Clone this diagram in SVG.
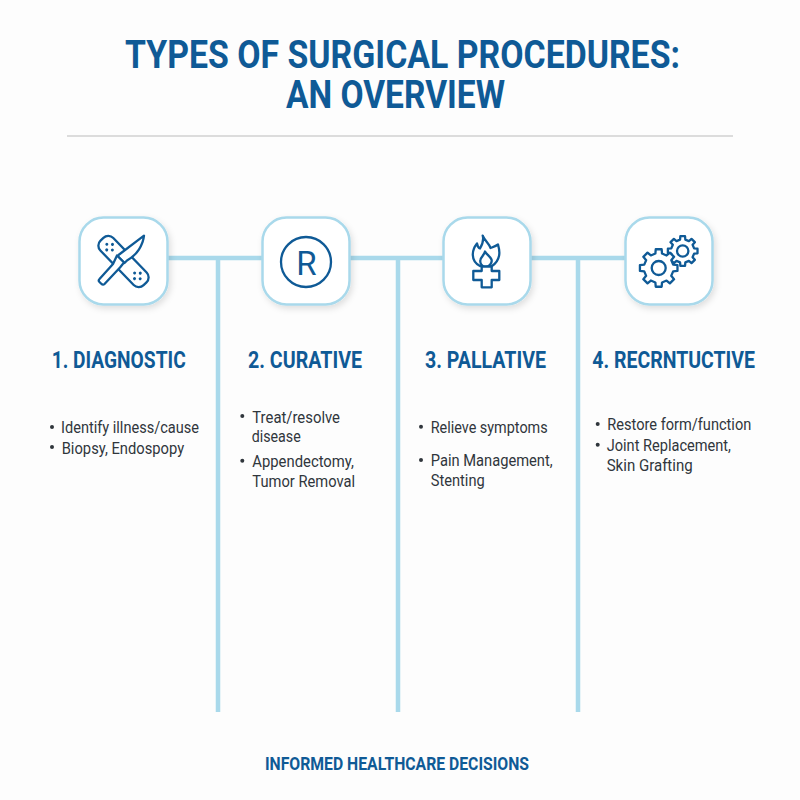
<svg xmlns="http://www.w3.org/2000/svg" width="800" height="800" viewBox="0 0 800 800">
<style>
text{font-family:"Roboto","Liberation Sans",sans-serif}
.t{font-size:38px;font-weight:700;fill:#0f5a96}
.h{font-size:23px;font-weight:700;fill:#0f5a96}
.b{font-size:17px;font-weight:400;fill:#30363c}
.f{font-size:18.500px;font-weight:700;fill:#0f5a96}
.card{fill:#fff;stroke:#a9d9eb;stroke-width:2.500;filter:url(#sh)}
.ln{stroke:#a9d9eb;stroke-width:4.500;fill:none}
.ic{fill:#fff;stroke:#0f5a96;stroke-width:2.300;stroke-linejoin:round;stroke-linecap:round}
.d{fill:#0f5a96}
.bu{fill:#30363c}
</style>
<defs>
<filter id="sh" x="-20%" y="-20%" width="140%" height="140%"><feDropShadow dx="2" dy="3" stdDeviation="3" flood-color="#000" flood-opacity="0.12"/></filter>
<path id="gear" vector-effect="non-scaling-stroke" d="M.76-.175L.988-.156L.988.156L.76.175L.659.414L.809.588L.588.809L.414.661L.175.76L.156.988L-.156.988L-.175.76L-.414.659L-.588.809L-.809.588L-.661.414L-.76.175L-.988.156L-.988-.156L-.76-.175L-.659-.414L-.809-.588L-.588-.809L-.414-.661L-.175-.76L-.156-.988L.156-.988L.175-.76L.414-.659L.588-.809L.809-.588L.661-.414Z"/>
</defs>
<rect width="800" height="800" fill="#fdfdfd"/>
<g id="title">
<text class="t" x="125" y="67.500" textLength="555" lengthAdjust="spacingAndGlyphs">TYPES OF SURGICAL PROCEDURES:</text>
<text class="t" x="286" y="107.500" textLength="219" lengthAdjust="spacingAndGlyphs">AN OVERVIEW</text>
<rect x="67" y="135" width="666" height="2" fill="#dcdcdc"/>
</g>
<g id="connectors">
<path class="ln" d="M168 258H625M218 258V712M398 258V712M578 258V712"/>
</g>
<g id="node1">
<rect class="card" x="79.500" y="217.500" width="88" height="87" rx="24"/>
<g transform="translate(123.500 261.500) rotate(46)">
<rect class="ic" x="-31" y="-9" width="62" height="18" rx="7"/>
<g class="d"><circle cx="-24" cy="0" r="1.500"/><circle cx="-20" cy="-4" r="1.500"/><circle cx="-20" cy="4" r="1.500"/><circle cx="-16" cy="0" r="1.500"/><circle cx="24" cy="0" r="1.500"/><circle cx="20" cy="-4" r="1.500"/><circle cx="20" cy="4" r="1.500"/><circle cx="16" cy="0" r="1.500"/></g>
</g>
<path class="ic" d="M144 235.700C143 245 137 255 127 260.500L124.500 263L118 256.500L118.500 255Z"/>
<path class="ic" d="M117 255.500L124 262.500L120 267.500L104.500 284Q103 285.500 101 283.500L99.500 282Q98 280.500 99.500 279L113 264Z"/>
</g>
<g id="node2">
<rect class="card" x="262.500" y="217.500" width="87" height="87" rx="24"/>
<circle cx="306" cy="262" r="25" fill="none" stroke="#0f5a96" stroke-width="2.300"/>
<text x="306.500" y="275" text-anchor="middle" font-size="33" font-weight="400" fill="#0f5a96">R</text>
</g>
<g id="node3">
<rect class="card" x="443.500" y="217.500" width="87" height="87" rx="24"/>
<path class="ic" d="M482.700 235.700C485 241 489 243 490.500 248C493 247 496 246 498 244.500C499 248 500 252 499 256C498 261 495 264 492 266H480C476 264 473 260 472.800 255C472.600 250 475 246 477 243.500C477.500 246 478 248 480 248.500C482 245 484 240 482.700 235.700Z"/>
<path class="ic" d="M485 251.500C486 254 490 256 491.500 259.500C492.500 263 489 267 486 267C482 267 479.500 263 480.500 259.500C481 257.500 484 255 485 251.500Z"/>
<path class="ic" d="M481.700 266.500H491.700V271H499.300V280H491.700V287.300H481.700V280H473.300V271H481.700Z"/>
</g>
<g id="node4">
<rect class="card" x="625.500" y="217.500" width="87" height="87" rx="24"/>
<use href="#gear" class="ic" transform="translate(682.700 251) scale(15)"/>
<circle class="ic" cx="682.700" cy="251" r="5.700"/>
<use href="#gear" class="ic" transform="translate(658.700 268) scale(19)"/>
<circle class="ic" cx="658.700" cy="268" r="7"/>
</g>
<g id="col1">
<text class="h" x="51.700" y="368.300" textLength="134" lengthAdjust="spacingAndGlyphs">1. DIAGNOSTIC</text>
<circle class="bu" cx="52" cy="427" r="2"/><circle class="bu" cx="52" cy="447" r="2"/>
<text class="b" x="61" y="433" textLength="138" lengthAdjust="spacingAndGlyphs">Identify illness/cause</text>
<text class="b" x="61.700" y="454" textLength="122.500" lengthAdjust="spacingAndGlyphs">Biopsy, Endospopy</text>
</g>
<g id="col2">
<text class="h" x="248" y="368.300" textLength="114" lengthAdjust="spacingAndGlyphs">2. CURATIVE</text>
<circle class="bu" cx="242.300" cy="416" r="2"/><circle class="bu" cx="242.300" cy="460.700" r="2"/>
<text class="b" x="252.300" y="422.700" textLength="87.700" lengthAdjust="spacingAndGlyphs">Treat/resolve</text>
<text class="b" x="251.700" y="442.300" textLength="49" lengthAdjust="spacingAndGlyphs">disease</text>
<text class="b" x="252.300" y="466.700" textLength="101.700" lengthAdjust="spacingAndGlyphs">Appendectomy,</text>
<text class="b" x="252.300" y="486.700" textLength="102.700" lengthAdjust="spacingAndGlyphs">Tumor Removal</text>
</g>
<g id="col3">
<text class="h" x="425" y="368.300" textLength="121" lengthAdjust="spacingAndGlyphs">3. PALLATIVE</text>
<circle class="bu" cx="421" cy="426.700" r="2"/><circle class="bu" cx="421" cy="460" r="2"/>
<text class="b" x="430.700" y="432.700" textLength="117" lengthAdjust="spacingAndGlyphs">Relieve symptoms</text>
<text class="b" x="430.700" y="466" textLength="122" lengthAdjust="spacingAndGlyphs">Pain Management,</text>
<text class="b" x="430.700" y="486" textLength="54" lengthAdjust="spacingAndGlyphs">Stenting</text>
</g>
<g id="col4">
<text class="h" x="592.300" y="368.300" textLength="162.700" lengthAdjust="spacingAndGlyphs">4. RECRNTUCTIVE</text>
<circle class="bu" cx="597.700" cy="424" r="2"/><circle class="bu" cx="597.700" cy="444.700" r="2"/>
<text class="b" x="607.300" y="430" textLength="144" lengthAdjust="spacingAndGlyphs">Restore form/function</text>
<text class="b" x="606.700" y="450.700" textLength="124.300" lengthAdjust="spacingAndGlyphs">Joint Replacement,</text>
<text class="b" x="606.700" y="471" textLength="86" lengthAdjust="spacingAndGlyphs">Skin Grafting</text>
</g>
<g id="footer">
<text class="f" x="265" y="770" textLength="264" lengthAdjust="spacingAndGlyphs">INFORMED HEALTHCARE DECISIONS</text>
</g>
</svg>
